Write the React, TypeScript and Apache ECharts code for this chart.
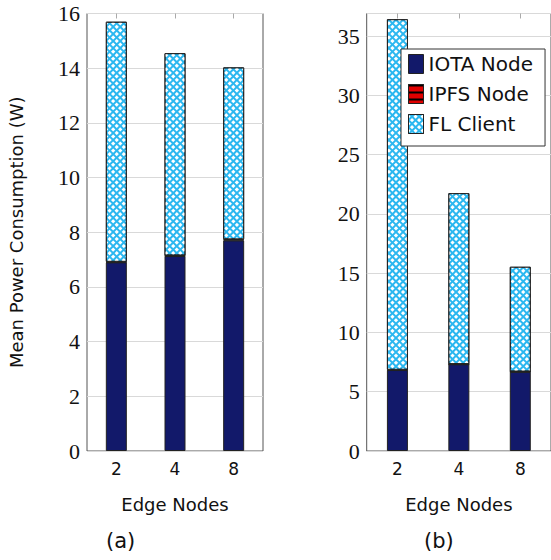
import React, { useEffect, useRef } from "react";
import * as echarts from "echarts";

const categories = ["2", "4", "8"];
const iotaA = [6.9, 7.13, 7.7];
const ipfsA = [0.02, 0.02, 0.04];
const flA = [8.78, 7.4, 6.29];
const iotaB = [6.83, 7.31, 6.68];
const ipfsB = [0.02, 0.02, 0.02];
const flB = [29.57, 14.42, 8.84];

const NAVY = "#12196a";
const CYAN = "#2bb7f0";
const SANS = "DejaVu Sans";
const SERIF = "Liberation Serif";

export default function App() {
  const ref = useRef<HTMLDivElement>(null);
  useEffect(() => {
    if (!ref.current) return;
    const chart = echarts.init(ref.current, null, { renderer: "svg" });
    const grids = [
      { left: 87, top: 13.5, width: 176, height: 437.5 },
      { left: 366.7, top: 13.5, width: 188, height: 437.5 },
    ];
    const xBottom = (gi: number) => ({
      type: "category",
      data: categories,
      gridIndex: gi,
      position: "bottom",
      axisLine: { show: false },
      axisTick: { show: true, inside: true, alignWithLabel: true, length: 5, lineStyle: { color: "#aaa" } },
      axisLabel: { fontFamily: SANS, fontSize: 17, color: "#111", margin: 9 },
      name: "Edge Nodes",
      nameLocation: "middle",
      nameGap: 44,
      nameTextStyle: { fontFamily: SANS, fontSize: 18, color: "#111" },
    });
    const xTop = (gi: number) => ({
      type: "category",
      data: categories,
      gridIndex: gi,
      position: "top",
      axisLine: { show: false },
      axisTick: { show: true, inside: true, alignWithLabel: true, length: 5, lineStyle: { color: "#aaa" } },
      axisLabel: { show: false },
    });
    const yAxis = (gi: number, max: number, interval: number, name: string) => ({
      type: "value",
      gridIndex: gi,
      min: 0,
      max,
      interval,
      axisLine: { show: false },
      axisTick: { show: false },
      splitLine: { show: true, lineStyle: { color: "#d9d9d9", width: 1 } },
      axisLabel: {
        fontFamily: SERIF,
        fontSize: 22,
        color: "#111",
        margin: 7,
        formatter: (v: number) => (Math.abs(v / interval - Math.round(v / interval)) < 1e-6 ? String(v) : ""),
      },
      name,
      nameLocation: "middle",
      nameGap: 62,
      nameTextStyle: { fontFamily: SANS, fontSize: 18, color: "#111" },
    });
    const flDecal = {
      symbol: "rect",
      symbolSize: 1,
      color: "#ffffff",
      dashArrayX: [3, 1.4],
      dashArrayY: [3, 1.4],
      rotation: Math.PI / 4,
    };
    const ipfsDecal = {
      symbol: "rect",
      symbolSize: 1,
      color: "#000000",
      dashArrayX: [1, 0],
      dashArrayY: [1.2, 5],
      rotation: 0,
    };
    const mk = (name: string, data: number[], gi: number, stack: string, color: string, decal?: any) => ({
      type: "bar",
      name,
      data,
      xAxisIndex: gi,
      yAxisIndex: gi,
      stack,
      barWidth: 21,
      itemStyle: { color, borderColor: "#222", borderWidth: 1, decal },
    });
    chart.setOption({
      animation: false,
      grid: grids.map((g) => ({ ...g, show: true, borderColor: "#555", borderWidth: 1, backgroundColor: "transparent" })),
      xAxis: [xBottom(0), xBottom(1), xTop(0), xTop(1)],
      yAxis: [yAxis(0, 16, 2, "Mean Power Consumption (W)"), yAxis(1, 36.9, 5, "")],
      legend: {
        left: 401,
        top: 49,
        orient: "vertical",
        data: ["IOTA Node", "IPFS Node", "FL Client"],
        icon: "rect",
        itemWidth: 15,
        itemHeight: 19,
        itemGap: 10,
        padding: [5, 12, 12, 7],
        backgroundColor: "#fff",
        borderColor: "#333",
        borderWidth: 1,
        borderRadius: 0,
        selectedMode: false,
        textStyle: { fontFamily: SANS, fontSize: 20, color: "#111" },
        itemStyle: { borderColor: "#222", borderWidth: 1 },
      },
      graphic: [
        { type: "text", left: 106, top: 530, style: { text: "(a)", fontFamily: SANS, fontSize: 21, fill: "#111" } },
        { type: "text", left: 424, top: 530, style: { text: "(b)", fontFamily: SANS, fontSize: 21, fill: "#111" } },
      ],
      series: [
        mk("IOTA Node", iotaA, 0, "a", NAVY),
        mk("IPFS Node", ipfsA, 0, "a", "#e00000", ipfsDecal),
        mk("FL Client", flA, 0, "a", CYAN, flDecal),
        mk("IOTA Node", iotaB, 1, "b", NAVY),
        mk("IPFS Node", ipfsB, 1, "b", "#e00000", ipfsDecal),
        mk("FL Client", flB, 1, "b", CYAN, flDecal),
      ],
    });
    return () => chart.dispose();
  }, []);
  return (
    <div
      ref={ref}
      style={{ position: "fixed", left: 0, top: 0, width: 551, height: 560, background: "#fff" }}
    />
  );
}
